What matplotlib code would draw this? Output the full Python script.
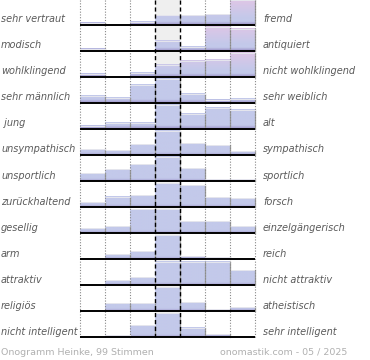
import numpy as np
import matplotlib
matplotlib.use('Agg')
import matplotlib.pyplot as plt
from matplotlib.colors import to_rgb

left_labels = ['sehr vertraut', 'modisch', 'wohlklingend', 'sehr männlich', ' jung',
               'unsympathisch', 'unsportlich', 'zurückhaltend', 'gesellig', 'arm',
               'attraktiv', 'religiös', 'nicht intelligent']
right_labels = ['fremd', 'antiquiert', 'nicht wohlklingend', 'sehr weiblich', 'alt',
                'sympathisch', 'sportlich', 'forsch', 'einzelgängerisch', 'reich',
                'nicht attraktiv', 'atheistisch', 'sehr intelligent']

# bar heights per row, 7 steps from left label to right label (24 = full)
heights = [
    [2, 0, 3, 9, 9, 10, 24],
    [2, 0, 0, 10, 4, 24, 22],
    [2.5, 0, 3.5, 12, 16, 17, 24],
    [6.5, 4.5, 17.5, 24, 9, 2.5, 4],
    [2.5, 6, 6, 24, 14.5, 21, 18.5],
    [5.5, 4.5, 10.5, 24, 11.5, 9.5, 3.5],
    [7.5, 11.5, 16.5, 24, 13, 2, 2],
    [4.5, 10, 11.5, 24, 21.5, 9.5, 8.5],
    [4.5, 7, 23.5, 24, 11.5, 11.5, 6.5],
    [0.5, 5, 7.5, 24, 2.5, 1.5, 0],
    [0, 5, 7.5, 23, 23, 23, 14.5],
    [0.5, 7.5, 7.5, 24, 8.5, 1.5, 3.5],
    [0, 2, 12, 24, 9, 2.5, 0],
]
pink_rows = 3  # top rows whose bars fade to pink

footer_left = 'Onogramm Heinke, 99 Stimmen'
footer_right = 'onomastik.com - 05 / 2025'

ROW = 26.0
COL = 25.0
x0_px, y0_px = 80.0, 24.5

fig = plt.figure(figsize=(3.7, 3.6), dpi=100)
ax = fig.add_axes([0, 0, 1, 1])
ax.axis('off')

blue = np.array(to_rgb('#c3c9ea'))
pink = np.array(to_rgb('#dec6e6'))
purple = np.array(to_rgb('#a59fd0'))

n = len(heights)
top_y = -y0_px / ROW
bot_y = n - 1 + 1.5 / ROW

# middle column background
ax.fill_between([3, 4], top_y, bot_y, color='#efefef', lw=0, zorder=0)

for r, row in enumerate(heights):
    for c, h in enumerate(row):
        if h <= 0:
            continue
        hr = h / ROW
        t = np.linspace(h, 0, 40)  # pixel height from top to bottom
        cols = []
        for v in t:
            if r < pink_rows:
                base = blue + (pink - blue) * np.clip((v - 6) / 18, 0, 1)
            else:
                base = blue.copy()
            if v < 2.5:
                k = 1 - v / 2.5
                base = base + (purple - base) * k
            cols.append(base)
        img = np.array(cols).reshape(-1, 1, 3)
        ax.imshow(img, extent=[c, c + 1, r, r - hr], origin='upper',
                  aspect='auto', interpolation='bilinear', zorder=1)
        ax.plot([c + 1, c + 1], [r, r - hr], color='#9a9a9a', lw=0.9, zorder=2)
        ax.plot([c, c + 1], [r - hr, r - hr], color='#e6e6ee', lw=0.7, zorder=2)
    ax.plot([0, 7], [r, r], color='black', lw=1.4, zorder=4, solid_capstyle='butt')
    ax.text(-3.16, r - 5 / ROW, left_labels[r], ha='left', va='center',
            fontsize=7.0, style='italic', color='#5a5a5a')
    ax.text(7.32, r - 5 / ROW, right_labels[r], ha='left', va='center',
            fontsize=7.0, style='italic', color='#5a5a5a')

for xv in [0, 1, 2, 5, 6, 7]:
    ax.plot([xv, xv], [top_y, bot_y], color='#888888', lw=0.8, ls=(0, (1, 1.5)), zorder=3)
for xv in [3, 4]:
    ax.plot([xv, xv], [top_y, bot_y], color='black', lw=1.0, ls=(0, (3, 2)), zorder=3)

fy = n - 1 + (352 - 336.5) / ROW
ax.text(-3.16, fy, footer_left, ha='left', va='center', fontsize=6.8, color='#b0b0b0')
ax.text(5.6, fy, footer_right, ha='left', va='center', fontsize=6.8, color='#b0b0b0')

ax.set_xlim(-x0_px / COL, (370 - x0_px) / COL)
ax.set_ylim((360 - y0_px) / ROW, -y0_px / ROW)

fig.savefig('out.png', dpi=100)
